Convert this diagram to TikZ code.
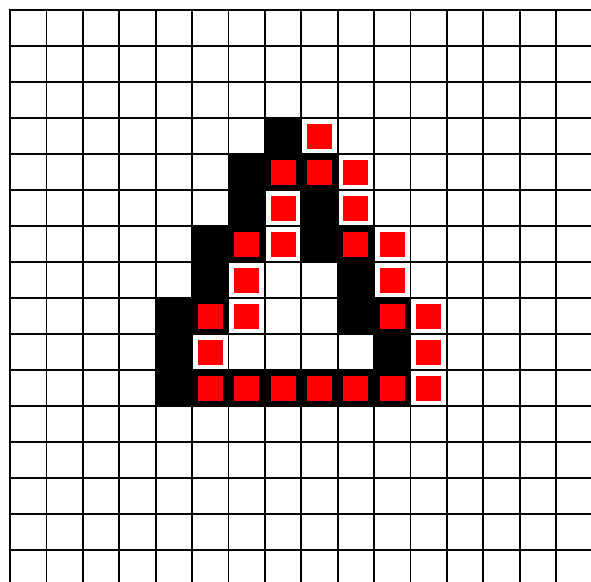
\documentclass[tikz,border=0pt]{standalone}
\begin{document}
\begin{tikzpicture}[x=1pt,y=-1pt,
  blackcell/.style={fill=black},
  redmark/.style={fill=red},
  gridline/.style={line width=1.8pt, draw=black, line cap=rect}]
\useasboundingbox (0,0) rectangle (591,581);
\fill[white] (0,0) rectangle (591,581);
\def\cw{36.4}
\def\ch{36}
\begin{scope}
\clip (0,0) rectangle (591,581);
\foreach \r/\c in {3/7, 4/6,4/7,4/8, 5/6,5/8, 6/5,6/6,6/8,6/9, 7/5,7/9,
  8/4,8/5,8/9,8/10, 9/4,9/10, 10/4,10/5,10/6,10/7,10/8,10/9,10/10}
  \fill[blackcell] ({10+\c*\cw},{10+\r*\ch}) rectangle +(\cw,\ch);
\foreach \k in {0,...,16} {
  \draw[gridline] ({10+\k*\cw},10) -- ({10+\k*\cw},590);
  \draw[gridline] (10,{10+\k*\ch}) -- (600,{10+\k*\ch});
}
\foreach \r/\c in {3/8, 4/7,4/8,4/9, 5/7,5/9, 6/6,6/7,6/9,6/10, 7/6,7/10,
  8/5,8/6,8/10,8/11, 9/5,9/11, 10/5,10/6,10/7,10/8,10/9,10/10,10/11}
  \fill[redmark] ({10+(\c+0.5)*\cw-12.5},{10+(\r+0.5)*\ch-12.5}) rectangle +(25,25);
\end{scope}
\end{tikzpicture}
\end{document}
